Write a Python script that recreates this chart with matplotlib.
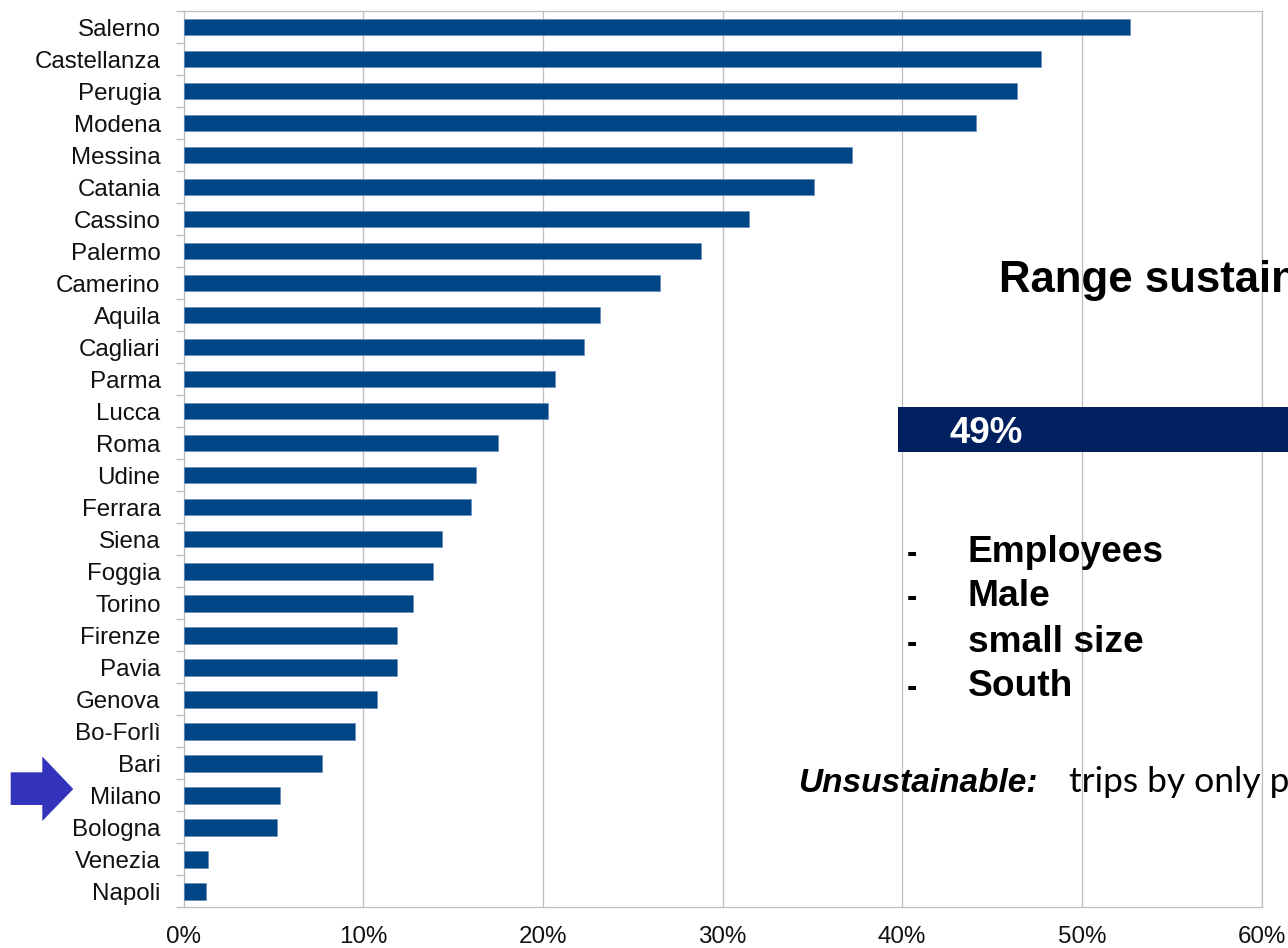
import numpy as np
import matplotlib
matplotlib.use("Agg")
import matplotlib.pyplot as plt
from matplotlib.patches import Polygon, Rectangle
from matplotlib.ticker import PercentFormatter

# ---- data ----
cities = ["Salerno", "Castellanza", "Perugia", "Modena", "Messina", "Catania",
          "Cassino", "Palermo", "Camerino", "Aquila", "Cagliari", "Parma",
          "Lucca", "Roma", "Udine", "Ferrara", "Siena", "Foggia", "Torino",
          "Firenze", "Pavia", "Genova", "Bo-Forlì", "Bari", "Milano",
          "Bologna", "Venezia", "Napoli"]
unsustainable_pct = [52.7, 47.7, 46.4, 44.1, 37.2, 35.1, 31.5, 28.8, 26.5,
                     23.2, 22.3, 20.7, 20.3, 17.5, 16.3, 16.0, 14.4, 13.9,
                     12.8, 11.9, 11.9, 10.75, 9.55, 7.7, 5.35, 5.2, 1.35, 1.25]
x_ticks = [0, 10, 20, 30, 40, 50, 60]
range_label = "49%"
bullet_items = ["Employees", "Male", "small size", "South"]

W, H = 1288, 948
fig = plt.figure(figsize=(W / 100, H / 100), dpi=100)
fig.patch.set_facecolor("white")

def fx(px):
    return px / W

def fy(py):
    return 1 - py / H

left, right, top, bottom = 183.5, 1261.5, 11, 907.3
ax = fig.add_axes([fx(left), fy(bottom), fx(right) - fx(left), fy(top) - fy(bottom)])

ypos = np.arange(len(cities))
ax.barh(ypos, unsustainable_pct, height=0.52, color="#004586",
        edgecolor="#5f86b8", linewidth=0.4, zorder=3)

ax.set_xlim(0, 60)
ax.set_ylim(len(cities) - 0.5, -0.5)
ax.set_xticks(x_ticks)
ax.xaxis.set_major_formatter(PercentFormatter(decimals=0))
ax.set_yticks(ypos)
ax.set_yticklabels(cities)
ax.set_yticks(np.arange(-0.5, len(cities), 1), minor=True)

grid_c = "#BDBDBD"
ax.xaxis.grid(True, color=grid_c, linewidth=0.9, zorder=0)
ax.set_axisbelow(True)
for s in ax.spines.values():
    s.set_color(grid_c)
    s.set_linewidth(0.9)

ax.tick_params(axis="y", which="major", length=0, pad=16.5)
ax.tick_params(axis="y", which="minor", length=5.8, color=grid_c, width=0.9, direction="out")
ax.tick_params(axis="x", which="both", length=0, pad=13.5)
for lab in ax.get_yticklabels() + ax.get_xticklabels():
    lab.set_fontfamily("Liberation Sans")
    lab.set_fontsize(17.4)
    lab.set_color("#111111")

# ---- arrow pointing at Milano ----
arrow_px = [(10.7, 772.3), (42.3, 772.3), (42.3, 756.5), (73.3, 789),
            (42.3, 821), (42.3, 805), (10.7, 805)]
fig.patches.append(Polygon([(fx(a), fy(b)) for a, b in arrow_px], closed=True,
                           transform=fig.transFigure, facecolor="#3333BB",
                           edgecolor="none", zorder=5))

# ---- overlay annotation ----
fig.text(fx(999), fy(292), "Range sustainable mobility", fontfamily="Liberation Sans",
         fontweight="bold", fontsize=31.5, color="black", va="baseline", ha="left")

fig.patches.append(Rectangle((fx(898.5), fy(451.5)), fx(1300) - fx(898.5),
                             fy(406.7) - fy(451.5), transform=fig.transFigure,
                             facecolor="#00205F", edgecolor="none", zorder=5))
fig.text(fx(949.5), fy(443), range_label, fontfamily="Liberation Sans",
         fontweight="bold", fontsize=26.5, color="white", va="baseline", ha="left", zorder=6)

baselines = [561.7, 606.5, 651.5, 695.5]
for item, b in zip(bullet_items, baselines):
    fig.text(fx(907), fy(b), "-", fontfamily="Liberation Sans", fontweight="bold",
             fontsize=22, color="black", va="baseline", ha="left")
    fig.text(fx(968), fy(b), item, fontfamily="Liberation Sans", fontweight="bold",
             fontsize=26.7, color="black", va="baseline", ha="left")

fig.text(fx(798), fy(791.7), "Unsustainable:", fontfamily="Liberation Sans",
         fontweight="bold", fontstyle="italic", fontsize=24, color="black",
         va="baseline", ha="left")
fig.text(fx(1069), fy(791.7), "trips by only private car", fontfamily="Lato",
         fontsize=25.5, color="black", va="baseline", ha="left")

fig.savefig("out.png", dpi=100, facecolor="white")
